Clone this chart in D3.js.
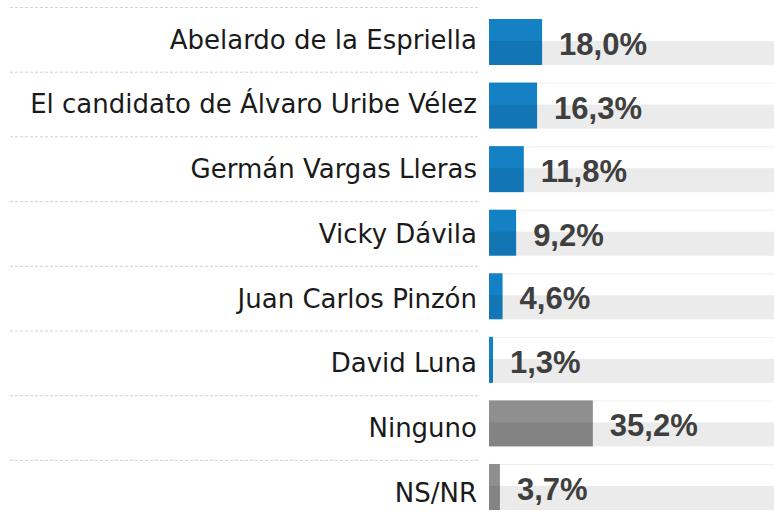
<!DOCTYPE html>
<html>
<head>
<meta charset="utf-8">
<script src="https://cdn.jsdelivr.net/npm/d3@7"></script>
<style>
  body { margin: 0; background: #fff; }
  .cat { font-family: "DejaVu Sans", sans-serif; font-size: 26px; fill: #1a1a1a; }
  .val { font-family: "Liberation Sans", Arial, sans-serif; font-weight: bold; font-size: 31px; fill: #3f3f3f; }
</style>
</head>
<body>
<svg width="774" height="520"></svg>
<script>
// data
var categories = ['Abelardo de la Espriella', 'El candidato de Álvaro Uribe Vélez', 'Germán Vargas Lleras',
    'Vicky Dávila', 'Juan Carlos Pinzón', 'David Luna', 'Ninguno', 'NS/NR'];
var values = [18.0, 16.3, 11.8, 9.2, 4.6, 1.3, 35.2, 3.7];
var groups = ['cand', 'cand', 'cand', 'cand', 'cand', 'cand', 'other', 'other'];

var data = categories.map(function(c, i) { return {name: c, value: values[i], group: groups[i]}; });

var svg = d3.select('svg');
var width = +svg.attr('width');

var barX = 489;
var xScale = d3.scaleLinear().domain([0, 100]).range([0, 295]);
var yScale = d3.scaleBand().domain(categories).range([19, 510]).paddingInner(0.276).paddingOuter(0);
// the label column sits on a slightly different grid
var labelScale = d3.scaleBand().domain(categories).range([7, 7 + 8 * 64.7]);

var colorScale = d3.scaleOrdinal().domain(['cand', 'other']).range(['#1481c5', '#8f8f8f']);

var locale = d3.formatLocale({decimal: ',', thousands: '.', grouping: [3], currency: ['', '']});
var fmt = locale.format('.1f');

// dashed separators on the left
svg.selectAll('.dash')
    .data(categories)
    .enter()
    .append('line')
    .attr('class', 'dash')
    .attr('x1', 10).attr('x2', 479)
    .attr('y1', d => labelScale(d) + 0.5)
    .attr('y2', d => labelScale(d) + 0.5)
    .style('stroke', '#d2d2d2')
    .style('stroke-dasharray', '3,2');

// faint row lines on the right
svg.selectAll('.sep')
    .data(categories.slice(1))
    .enter()
    .append('line')
    .attr('class', 'sep')
    .attr('x1', barX).attr('x2', width)
    .attr('y1', d => yScale(d) + 0.5)
    .attr('y2', d => yScale(d) + 0.5)
    .style('stroke', '#efefef');

svg.selectAll('.cat')
    .data(data)
    .enter()
    .append('text')
    .attr('class', 'cat')
    .attr('x', 477)
    .attr('y', d => labelScale(d.name) + labelScale.bandwidth() / 2)
    .attr('dy', '0.36em')
    .attr('text-anchor', 'end')
    .text(d => d.name);

svg.selectAll('.bar')
    .data(data)
    .enter()
    .append('rect')
    .attr('class', 'bar')
    .attr('x', barX)
    .attr('y', d => yScale(d.name))
    .attr('width', d => Math.max(4, xScale(d.value)))
    .attr('height', yScale.bandwidth())
    .style('fill', d => colorScale(d.group));

// translucent band over the lower half of each row
svg.selectAll('.band')
    .data(data)
    .enter()
    .append('rect')
    .attr('class', 'band')
    .attr('x', barX)
    .attr('y', d => yScale(d.name) + 22)
    .attr('width', width - barX)
    .attr('height', yScale.bandwidth() - 22)
    .style('fill', 'rgba(0,0,0,0.08)');

svg.selectAll('.val')
    .data(data)
    .enter()
    .append('text')
    .attr('class', 'val')
    .attr('x', d => barX + Math.max(4, xScale(d.value)) + 17)
    .attr('y', d => yScale(d.name) + yScale.bandwidth() - 10)
    .text(d => fmt(d.value) + '%');
</script>
</body>
</html>
